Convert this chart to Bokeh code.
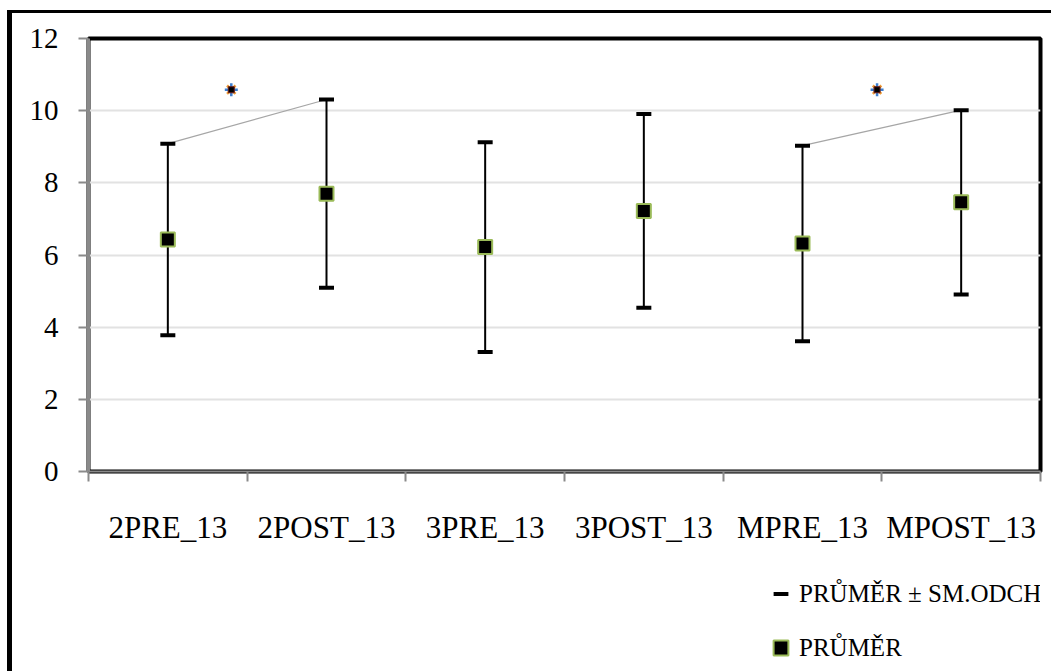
from bokeh.plotting import figure
from bokeh.layouts import column
from bokeh.models import (FixedTicker, Legend, LegendItem,
                          ColumnDataSource, Range1d)
from bokeh.embed import file_html
from bokeh.resources import INLINE

# ---- data ----
categories = ["2PRE_13", "2POST_13", "3PRE_13", "3POST_13", "MPRE_13", "MPOST_13"]
mean = [6.43, 7.70, 6.22, 7.22, 6.32, 7.46]
sd = [2.655, 2.61, 2.905, 2.685, 2.71, 2.555]
sig_pairs = [(0, 1), (4, 5)]
star_x = [0.90, 4.97]
star_y = [10.58, 10.58]
y_ticks = [0, 2, 4, 6, 8, 10, 12]
legend_labels = ["PRŮMĚR ± SM.ODCH", "PRŮMĚR"]

xc = [i + 0.5 for i in range(len(categories))]
upper = [m + s for m, s in zip(mean, sd)]
lower = [m - s for m, s in zip(mean, sd)]
src = ColumnDataSource(dict(x=xc, mean=mean, upper=upper, lower=lower))

FONT = "Liberation Serif"
OFF_X, OFF_Y = 12, 13   # outer border offset
W = 1051 - OFF_X
MAIN_BOTTOM = 560       # canvas y where the legend strip starts

fig = figure(width=W, height=MAIN_BOTTOM - OFF_Y, output_backend="svg",
             toolbar_location=None,
             x_range=Range1d(0, len(categories)), y_range=Range1d(0, 12),
             min_border_left=88 - OFF_X, min_border_right=11,
             min_border_top=38 - OFF_Y,
             min_border_bottom=(MAIN_BOTTOM - OFF_Y) - (38 - OFF_Y) - 433)
fig.background_fill_color = "white"
fig.border_fill_color = "white"
fig.outline_line_color = "black"
fig.outline_line_width = 4

# grid
fig.xgrid.grid_line_color = None
fig.ygrid.ticker = FixedTicker(ticks=y_ticks)
fig.ygrid.grid_line_color = "#e2e2e2"
fig.ygrid.grid_line_width = 2

# y axis
ya = fig.yaxis[0]
ya.ticker = FixedTicker(ticks=y_ticks)
ya.axis_line_color = "#8a8a8a"
ya.axis_line_width = 3
ya.major_tick_line_color = "#8a8a8a"
ya.major_tick_line_width = 2
ya.major_tick_out = 10
ya.major_tick_in = 0
ya.minor_tick_line_color = None
ya.major_label_text_font = FONT
ya.major_label_text_font_size = "29px"
ya.major_label_text_color = "black"
ya.major_label_standoff = 20

# x axis
xa = fig.xaxis[0]
xa.ticker = FixedTicker(ticks=xc, minor_ticks=list(range(len(categories) + 1)))
xa.major_label_overrides = {x: c for x, c in zip(xc, categories)}
xa.axis_line_color = "#8a8a8a"
xa.axis_line_width = 2
xa.major_tick_line_color = None
xa.major_tick_out = 0
xa.major_tick_in = 0
xa.minor_tick_line_color = "#8a8a8a"
xa.minor_tick_line_width = 2
xa.minor_tick_out = 10
xa.minor_tick_in = 0
xa.major_label_text_font = FONT
xa.major_label_text_font_size = "31px"
xa.major_label_text_color = "black"
xa.major_label_standoff = 28

# significance connectors
for a, b in sig_pairs:
    fig.line([xc[a], xc[b]], [upper[a], upper[b]], line_color="#a6a6a6", line_width=1.2)

# error bars
fig.segment(x0="x", y0="lower", x1="x", y1="upper", source=src,
            line_color="black", line_width=2)
CAP = dict(marker="dash", size=15, line_color="black", line_width=4)
MEAN = dict(marker="square", size=14, fill_color="black", line_color="#9bbb59", line_width=2)
fig.scatter(x="x", y="upper", source=src, **CAP)
fig.scatter(x="x", y="lower", source=src, **CAP)

# means
fig.scatter(x="x", y="mean", source=src, **MEAN)

# significance stars
fig.scatter(star_x, star_y, marker="cross", size=13, line_color="#3d7fd0", line_width=2.5)
fig.scatter(star_x, star_y, marker="x", size=12, line_color="#ee9a35", line_width=2.5)
fig.scatter(star_x, star_y, marker="square", size=6, fill_color="black", line_color="#6b1f1f")

# ---- legend strip (frame aligns with main frame: x 88..1040) ----
LH = 671 - MAIN_BOTTOM
leg = figure(width=W, height=LH, output_backend="svg", toolbar_location=None,
             x_range=Range1d(0, 1), y_range=Range1d(0, 1),
             x_axis_location=None, y_axis_location=None,
             min_border=0)
leg.grid.grid_line_color = None
leg.outline_line_color = None
leg.background_fill_color = "white"
leg.border_fill_color = "white"
hidden = ColumnDataSource(dict(x=[-10], y=[-10]))   # off-screen key carriers
r_cap = leg.scatter(x="x", y="y", source=hidden, **CAP)
r_mean = leg.scatter(x="x", y="y", source=hidden, **MEAN)

legend = Legend(items=[LegendItem(label=legend_labels[0], renderers=[r_cap]),
                       LegendItem(label=legend_labels[1], renderers=[r_mean])],
                location=(762 - 88, 5))
legend.label_text_font = FONT
legend.label_text_font_size = "25px"
legend.label_text_color = "black"
legend.glyph_width = 37
legend.glyph_height = 37
legend.label_standoff = -6
legend.spacing = 17
legend.padding = 0
legend.margin = 0
legend.border_line_color = None
legend.background_fill_alpha = 0
leg.add_layout(legend, "center")

p = column(fig, leg, spacing=0)
p.styles = {"border-left": "5px solid black", "border-top": "3px solid black",
            "margin-left": "%dpx" % (OFF_X - 5), "margin-top": "%dpx" % (OFF_Y - 3)}

open("out.html", "w").write(file_html(p, INLINE))
